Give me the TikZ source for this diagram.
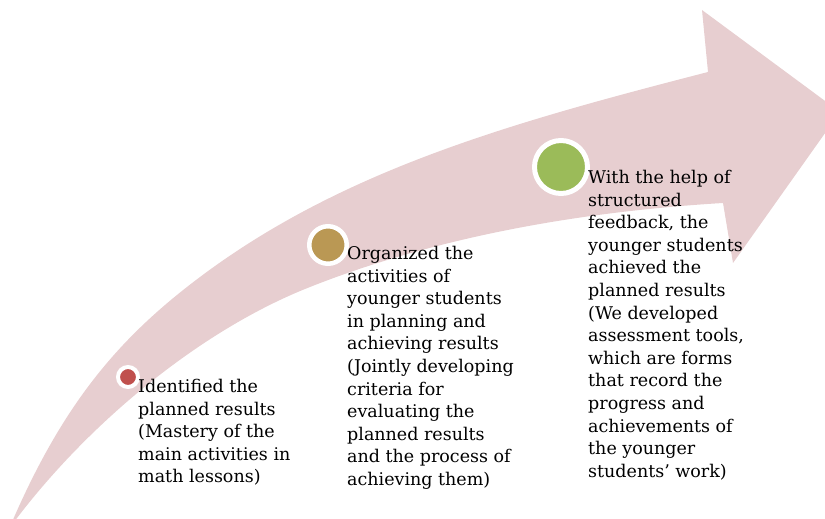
\documentclass[tikz,border=0pt]{standalone}
\usepackage{fontspec}
\setmainfont{DejaVu Serif}
\usetikzlibrary{positioning}
\definecolor{arrowpink}{RGB}{231,206,208}
\definecolor{dotred}{RGB}{192,80,77}
\definecolor{dotgold}{RGB}{186,152,84}
\definecolor{dotgreen}{RGB}{155,187,89}
\begin{document}
\begin{tikzpicture}[
    x=1bp, y=-1bp,
    dot/.style={circle, draw=white, line width=4bp, inner sep=0pt},
    txt/.style={anchor=north west, inner sep=0pt, align=left,
                font=\fontsize{17.5bp}{22.6bp}\selectfont}
]
\clip (0,0) rectangle (825,519);
% curved arrow
\fill[arrowpink] (12,522) .. controls (64,402) and (120,337) .. (200,277)
    .. controls (344,169) and (514,122) .. (708,72)
    -- (702,10) -- (840,112) -- (733,263) -- (723,203)
    .. controls (573,212) and (431,239) .. (310,287)
    .. controls (198,331) and (86,426) .. (14,522) -- cycle;
% stage markers
\node[dot, fill=dotred, minimum size=20bp] (d1) at (128,377) {};
\node[dot, fill=dotgold, minimum size=37.5bp, line width=4.5bp] (d2) at (328,245) {};
\node[dot, fill=dotgreen, minimum size=53bp, line width=5bp] (d3) at (561,167) {};
% stage texts
\node[txt] (t1) at (138,379) {Identified the\\planned results\\(Mastery of the\\main activities in\\math lessons)};
\node[txt] (t2) at (347,246) {Organized the\\activities of\\younger students\\in planning and\\achieving results\\(Jointly developing\\criteria for\\evaluating the\\planned results\\and the process of\\achieving them)};
\node[txt] (t3) at (588,170) {With the help of\\structured\\feedback, the\\younger students\\achieved the\\planned results\\(We developed\\assessment tools,\\which are forms\\that record the\\progress and\\achievements of\\the younger\\students{\char"0027} work)};
\end{tikzpicture}
\end{document}
